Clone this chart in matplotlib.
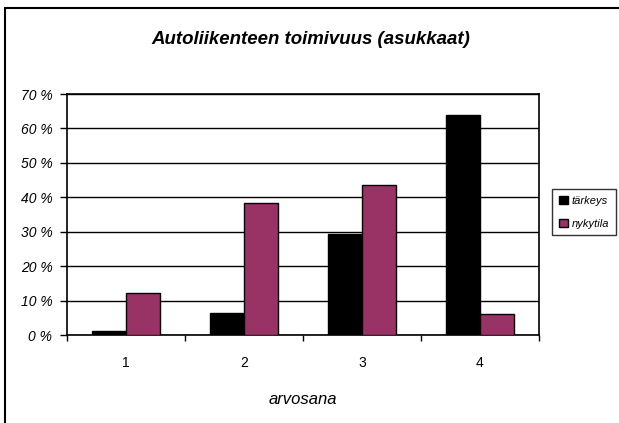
import numpy as np
import matplotlib
matplotlib.use('Agg')
from matplotlib import pyplot as plt
from matplotlib.patches import Rectangle

categories = ['1', '2', '3', '4']
tarkeys = [1.2, 6.5, 29.2, 64.0]
nykytila = [12.1, 38.3, 43.5, 6.0]
y_ticks = [0, 10, 20, 30, 40, 50, 60, 70]
y_tick_labels = [f'{v} %' for v in y_ticks]

plt.rcParams['font.family'] = ['Liberation Sans', 'DejaVu Sans']

W, H = 619, 423
fig = plt.figure(figsize=(W / 100, H / 100), dpi=100)
ax = fig.add_axes([67 / W, 1 - 335 / H, (539 - 67) / W, (335 - 94) / H])

x = np.arange(len(categories))
w = 0.284
ax.bar(x - w / 2, tarkeys, w, color='#000000', edgecolor='#000000', linewidth=1, label='tärkeys', zorder=3)
ax.bar(x + w / 2, nykytila, w, color='#993366', edgecolor='#000000', linewidth=1, label='nykytila', zorder=3)

ax.set_xlim(-0.5, len(categories) - 0.5)
ax.set_ylim(0, 70)

ax.set_yticks(y_ticks)
ax.set_yticklabels(y_tick_labels, fontstyle='italic', fontsize=10)
ax.yaxis.grid(True, color='black', linewidth=1, zorder=1)
ax.set_axisbelow(True)

ax.set_xticks(x)
ax.set_xticklabels(categories, fontsize=10)
ax.set_xticks(np.arange(-0.5, len(categories)), minor=True)
ax.tick_params(axis='x', which='major', length=0, pad=15)
ax.tick_params(axis='x', which='minor', length=4.5, width=1, color='black')
ax.tick_params(axis='y', length=5, width=1, color='black', pad=5.5)

for s in ax.spines.values():
    s.set_linewidth(1.2)
    s.set_color('black')

fig.text(303 / W, 1 - 399 / H, 'arvosana', ha='center', va='center', fontsize=12, fontstyle='italic')
fig.text(311 / W, 1 - 40 / H, 'Autoliikenteen toimivuus (asukkaat)', ha='center', va='center',
         fontsize=13.4, fontweight='bold', fontstyle='italic')

# chart area frame (cropped at right/bottom in the original)
fig.patches.append(Rectangle((5 / W, -0.05), 1.1, 1 - 8 / H + 0.05, transform=fig.transFigure,
                             fill=False, edgecolor='black', linewidth=1.5, clip_on=False))

leg = fig.legend(loc='upper left', bbox_to_anchor=(552 / W, 1 - 189 / H), frameon=True, fancybox=False,
                 edgecolor='black', handlelength=0.8, handleheight=0.8, handletextpad=0.35,
                 borderpad=0.6, labelspacing=1.15, borderaxespad=0,
                 prop={'style': 'italic', 'size': 8})
leg.get_frame().set_linewidth(1)

fig.savefig('out.png', dpi=100)
